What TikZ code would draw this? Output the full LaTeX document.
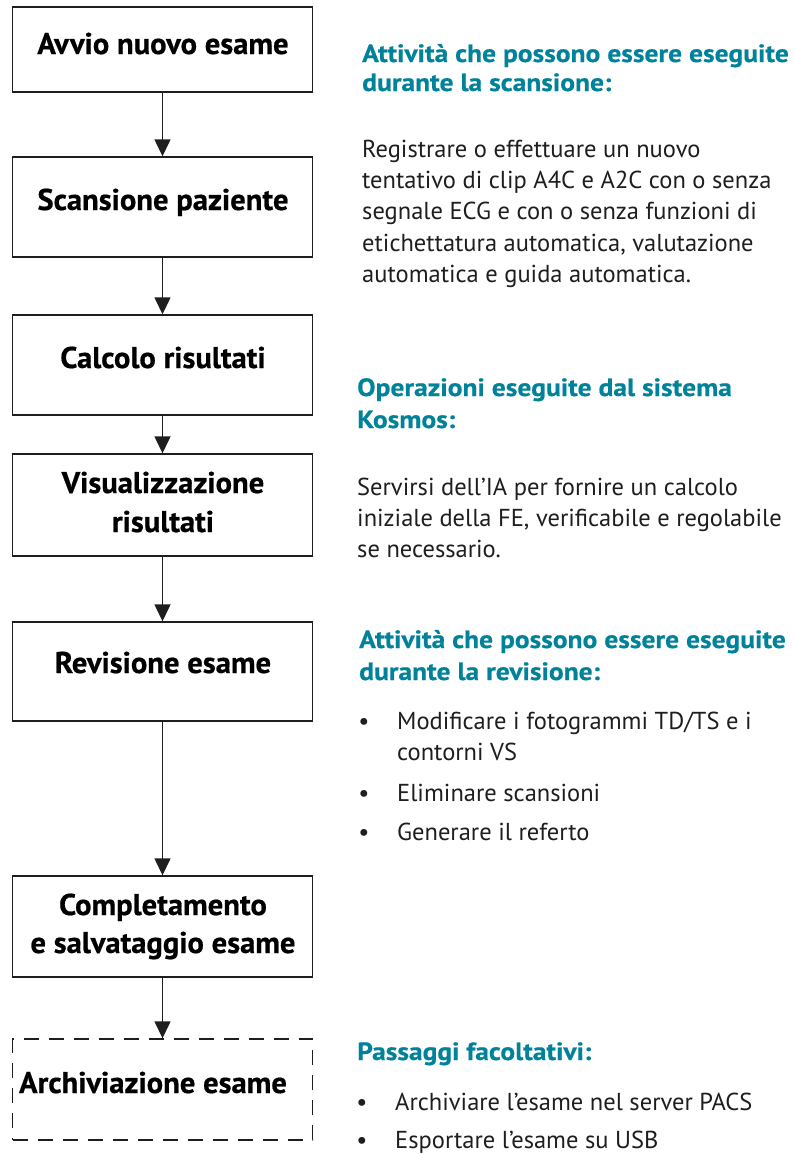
\documentclass[tikz,border=0pt]{standalone}
\usepackage{fontspec}
\setmainfont{PT Sans}
\newfontfamily\boxfont[FakeStretch=1.02,FakeBold=0.6]{PT Sans}
\newfontfamily\hdfont[FakeStretch=1.10,FakeBold=0.4]{PT Sans}
\newfontfamily\bdfont{PT Sans}
\usetikzlibrary{arrows.meta}
\definecolor{teal1}{RGB}{0,130,155}
\definecolor{ink}{RGB}{30,30,30}
\begin{document}
\begin{tikzpicture}[x=1pt,y=-1pt,
 box/.style={draw=ink,line width=1.4pt,minimum width=300pt,inner sep=0pt},
 btxt/.style={font=\boxfont\fontsize{30}{40}\selectfont\bfseries,anchor=base,align=center,inner sep=0pt,text=black},
 arr/.style={draw=ink,line width=1.4pt,-{Triangle[width=16pt,length=17pt]}},
 head/.style={font=\hdfont\fontsize{25}{30}\selectfont\bfseries,text=teal1,anchor=base west,align=left,inner sep=0pt},
 body/.style={font=\bdfont\fontsize{24.5}{31.3}\selectfont,text=ink,anchor=base west,align=left,inner sep=0pt},
 bul/.style={font=\bdfont\fontsize{24.5}{31.3}\selectfont,text=ink,anchor=base,inner sep=0pt},
]
\useasboundingbox[fill=white] (0,0) rectangle (794,1154);
% boxes
\node[box,minimum height=85pt] (b1) at (162.5,49.5) {};
\node[box,minimum height=100pt] (b2) at (162.5,207) {};
\node[box,minimum height=100pt] (b3) at (162.5,365) {};
\node[box,minimum height=102pt] (b4) at (162.5,505) {};
\node[box,minimum height=99pt] (b5) at (162.5,671.5) {};
\node[box,minimum height=101pt] (b6) at (162.5,926.5) {};
\node[box,dashed,dash pattern=on 15pt off 10pt,minimum height=101pt] (b7) at (162.5,1089.5) {};
% box texts
\node[btxt] (t1) at (163,54) {Avvio nuovo esame};
\node[btxt] (t2) at (163,210) {Scansione paziente};
\node[btxt] (t3) at (163,368) {Calcolo risultati};
\node[btxt] (t4a) at (163,493) {Visualizzazione};
\node[btxt] (t4b) at (163,532) {risultati};
\node[btxt] (t5) at (163,673) {Revisione esame};
\node[btxt] (t6a) at (163,915) {Completamento};
\node[btxt] (t6b) at (163,953) {e salvataggio esame};
\node[btxt] (t7) at (153,1093) {Archiviazione esame};
% arrows
\draw[arr] (b1.south) -- (b2.north);
\draw[arr] (b2.south) -- (b3.north);
\draw[arr] (b3.south) -- (b4.north);
\draw[arr] (b4.south) -- (b5.north);
\draw[arr] (b5.south) -- (b6.north);
\draw[arr] (b6.south) -- (b7.north);
% right column
\node[head] (h1) at (362,62) {Attività che possono essere eseguite};
\node[head] (h1b) at (362,91) {durante la scansione:};
\node[body] (p1a) at (362,157) {Registrare o effettuare un nuovo};
\node[body] (p1b) at (362,188) {tentativo di clip A4C e A2C con o senza};
\node[body] (p1c) at (362,219) {segnale ECG e con o senza funzioni di};
\node[body] (p1d) at (362,251) {etichettatura automatica, valutazione};
\node[body] (p1e) at (362,282) {automatica e guida automatica.};

\node[head] (h2) at (357,396) {Operazioni eseguite dal sistema};
\node[head] (h2b) at (357,428) {Kosmos:};
\node[body] (p2a) at (357,495) {Servirsi dell’IA per fornire un calcolo};
\node[body] (p2b) at (357,526) {iniziale della FE, verificabile e regolabile};
\node[body] (p2c) at (357,557) {se necessario.};

\node[head] (h3) at (359,648) {Attività che possono essere eseguite};
\node[head] (h3b) at (359,680) {durante la revisione:};
\node[bul] (u1) at (364,729) {•};
\node[body] (l1a) at (397,729) {Modificare i fotogrammi TD/TS e i};
\node[body] (l1b) at (397,760) {contorni VS};
\node[bul] (u2) at (364,801) {•};
\node[body] (l2) at (397,801) {Eliminare scansioni};
\node[bul] (u3) at (364,840) {•};
\node[body] (l3) at (397,840) {Generare il referto};

\node[head] (h4) at (357,1060) {Passaggi facoltativi:};
\node[bul] (u4) at (362,1110) {•};
\node[body] (l4) at (395,1110) {Archiviare l’esame nel server PACS};
\node[bul] (u5) at (362,1148) {•};
\node[body] (l5) at (395,1148) {Esportare l’esame su USB};
\end{tikzpicture}
\end{document}
